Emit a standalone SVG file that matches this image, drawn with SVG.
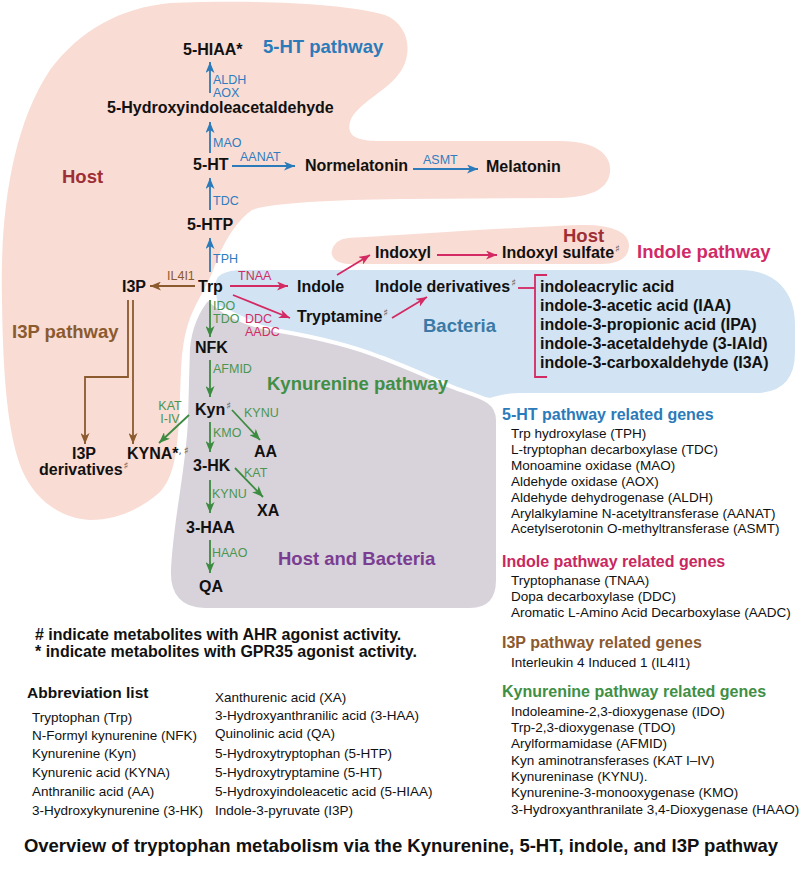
<svg xmlns="http://www.w3.org/2000/svg" width="800" height="871" viewBox="0 0 800 871">
<defs>
<style>
text{font-family:"Liberation Sans",Arial,sans-serif}
.m{font-size:16px;font-weight:bold;fill:#111}
.e{font-size:12.5px}
.eb{fill:#2f7dc0}.ep{fill:#d02c64}.ebr{fill:#8b5a2f}.eg{fill:#4a9650}
.sh{font-family:"DejaVu Sans",sans-serif;font-size:10px;fill:#555;font-weight:normal}
.pw{font-size:18.5px;font-weight:bold}
.hd{font-size:16px;font-weight:bold}
.li{font-size:13.5px;fill:#111}
.cb{stroke:#2b7bba}.cp{stroke:#d42a63}.cbr{stroke:#8b5a2f}.cg{stroke:#3b8b40}
.c{fill:none;stroke-width:1.8}
.rg{stroke:#fff;stroke-width:4}
</style>
<marker id="ab" viewBox="0 0 11 9" refX="11" refY="4.5" markerWidth="11" markerHeight="9" markerUnits="userSpaceOnUse" orient="auto"><path d="M0,0 L11,4.5 L0,9 L3,4.5 Z" fill="#2b7bba"/></marker>
<marker id="ap" viewBox="0 0 11 9" refX="11" refY="4.5" markerWidth="11" markerHeight="9" markerUnits="userSpaceOnUse" orient="auto"><path d="M0,0 L11,4.5 L0,9 L3,4.5 Z" fill="#d42a63"/></marker>
<marker id="abr" viewBox="0 0 11 9" refX="11" refY="4.5" markerWidth="11" markerHeight="9" markerUnits="userSpaceOnUse" orient="auto"><path d="M0,0 L11,4.5 L0,9 L3,4.5 Z" fill="#8b5a2f"/></marker>
<marker id="ag" viewBox="0 0 11 9" refX="11" refY="4.5" markerWidth="11" markerHeight="9" markerUnits="userSpaceOnUse" orient="auto"><path d="M0,0 L11,4.5 L0,9 L3,4.5 Z" fill="#3b8b40"/></marker>
</defs>
<rect width="800" height="871" fill="#fff"/>

<g id="regions">
<path id="host-main" fill="#f9dcd3" d="M170,3 C250,0 340,2 385,15 C410,25 414,55 398,75 C385,92 355,105 350,122 C346,138 360,141 380,141 L560,141 C600,141 612,158 610,172 C608,190 590,197 560,198 L400,199 C330,200 270,203 252,210 C235,222 222,245 214,268 C208,285 197,300 190,318 C184,335 182,350 181,370 L179,420 C177,455 173,478 160,492 C140,510 115,520 90,520 C60,518 35,500 22,470 C8,435 3,380 2,300 C0,220 10,130 50,70 C80,30 120,8 170,3 Z"/>
<path id="bacteria" class="rg" fill="#d2e3f3" d="M213,287 C213,274 222,268 245,268 L740,268 C778,268 797,292 797,325 L797,352 C797,382 782,395 755,395 L520,395 C505,395 497,398 490,400 L455,393 L380,362 L280,336 L216,306 Z"/>
<path id="host-indoxyl" class="rg" fill="#f9dcd3" d="M348,236 C420,232 500,226 580,223 C615,222 632,232 631,247 C630,260 620,266 600,266 L350,266 C335,266 328,258 330,250 C332,242 338,237 348,236 Z"/>
<path id="host-bacteria" class="rg" fill="#d8d2da" d="M208,298 C222,313 242,324 280,331 C320,338 350,345 380,357 C410,368 435,380 455,388 C475,396 498,398 498,420 L498,580 C498,598 490,610 470,610 L205,610 C180,610 168,595 169,570 C171,520 184,470 186,420 L188,348 C190,328 197,311 208,298 Z"/>
</g>

<g id="connectors">
<line class="c cb" x1="210" y1="93" x2="210" y2="62" marker-end="url(#ab)"/>
<line class="c cb" x1="210" y1="153" x2="210" y2="122" marker-end="url(#ab)"/>
<line class="c cb" x1="232" y1="166" x2="295" y2="166" marker-end="url(#ab)"/>
<line class="c cb" x1="413" y1="169" x2="478" y2="169" marker-end="url(#ab)"/>
<line class="c cb" x1="210" y1="210" x2="210" y2="178" marker-end="url(#ab)"/>
<line class="c cb" x1="210" y1="272" x2="210" y2="238" marker-end="url(#ab)"/>
<line class="c cbr" x1="195" y1="286" x2="150" y2="286" marker-end="url(#abr)"/>
<polyline class="c cbr" points="128,300 128,377 85,377 85,444" marker-end="url(#abr)"/>
<line class="c cbr" x1="133" y1="300" x2="133" y2="444" marker-end="url(#abr)"/>
<line class="c cp" x1="230" y1="286" x2="288" y2="286" marker-end="url(#ap)"/>
<line class="c cp" x1="233" y1="295" x2="290" y2="318" marker-end="url(#ap)"/>
<line class="c cp" x1="337" y1="275" x2="370" y2="255" marker-end="url(#ap)"/>
<line class="c cp" x1="437" y1="255" x2="497" y2="255" marker-end="url(#ap)"/>
<line class="c cp" x1="392" y1="318" x2="427" y2="297" marker-end="url(#ap)"/>
<polyline class="c cp" points="518,288 535,288"/>
<polyline class="c cp" points="547,275 535,275 535,377 547,377"/>
<line class="c cg" x1="210" y1="300" x2="210" y2="337" marker-end="url(#ag)"/>
<line class="c cg" x1="210" y1="360" x2="210" y2="397" marker-end="url(#ag)"/>
<line class="c cg" x1="232" y1="410" x2="260" y2="440" marker-end="url(#ag)"/>
<line class="c cg" x1="210" y1="422" x2="210" y2="452" marker-end="url(#ag)"/>
<line class="c cg" x1="189" y1="415" x2="159" y2="443" marker-end="url(#ag)"/>
<line class="c cg" x1="235" y1="468" x2="263" y2="497" marker-end="url(#ag)"/>
<line class="c cg" x1="210" y1="480" x2="210" y2="513" marker-end="url(#ag)"/>
<line class="c cg" x1="210" y1="540" x2="210" y2="573" marker-end="url(#ag)"/>
</g>

<g id="enzyme-labels">
<text class="e eb" x="213" y="84">ALDH</text>
<text class="e eb" x="213" y="96.5">AOX</text>
<text class="e eb" x="213" y="147">MAO</text>
<text class="e eb" x="240" y="161">AANAT</text>
<text class="e eb" x="423" y="164">ASMT</text>
<text class="e eb" x="213" y="205">TDC</text>
<text class="e eb" x="213" y="263">TPH</text>
<text class="e ebr" x="167" y="280">IL4I1</text>
<text class="e ep" x="238" y="280">TNAA</text>
<text class="e ep" x="245" y="323">DDC</text>
<text class="e ep" x="245" y="336">AADC</text>
<text class="e eg" x="213" y="309.5">IDO</text>
<text class="e eg" x="213" y="322.5">TDO</text>
<text class="e eg" x="213" y="373">AFMID</text>
<text class="e eg" x="170" y="409.5" text-anchor="middle">KAT</text>
<text class="e eg" x="170" y="423" text-anchor="middle">I-IV</text>
<text class="e eg" x="244" y="417">KYNU</text>
<text class="e eg" x="213" y="437">KMO</text>
<text class="e eg" x="244" y="477">KAT</text>
<text class="e eg" x="212" y="498">KYNU</text>
<text class="e eg" x="212" y="557">HAAO</text>
</g>

<g id="nodes">
<g id="n-5hiaa"><text class="m" x="183" y="55">5-HIAA*</text></g>
<g id="n-5hial"><text class="m" x="107" y="113">5-Hydroxyindoleacetaldehyde</text></g>
<g id="n-5ht"><text class="m" x="193" y="170">5-HT</text></g>
<g id="n-normel"><text class="m" x="305" y="171">Normelatonin</text></g>
<g id="n-mel"><text class="m" x="486" y="172">Melatonin</text></g>
<g id="n-5htp"><text class="m" x="187" y="230">5-HTP</text></g>
<g id="n-trp"><text class="m" x="198" y="292">Trp</text></g>
<g id="n-i3p"><text class="m" x="122" y="292">I3P</text></g>
<g id="n-indole"><text class="m" x="297" y="292">Indole</text></g>
<g id="n-tryptamine"><text class="m" x="297" y="322">Tryptamine<tspan class="sh" dx="1" dy="-6">♯</tspan></text></g>
<g id="n-indoxyl"><text class="m" x="375" y="258">Indoxyl</text></g>
<g id="n-indsulf"><text class="m" x="502" y="258">Indoxyl sulfate<tspan class="sh" dx="1" dy="-6">♯</tspan></text></g>
<g id="n-indder"><text class="m" x="375" y="292">Indole derivatives<tspan class="sh" dx="1" dy="-6">♯</tspan></text></g>
<g id="n-indlist">
<text class="m" x="540" y="292">indoleacrylic acid</text>
<text class="m" x="540" y="311">indole-3-acetic acid (IAA)</text>
<text class="m" x="540" y="330">indole-3-propionic acid (IPA)</text>
<text class="m" x="540" y="349">indole-3-acetaldehyde (3-IAld)</text>
<text class="m" x="540" y="368">indole-3-carboxaldehyde (I3A)</text>
</g>
<g id="n-nfk"><text class="m" x="195" y="353">NFK</text></g>
<g id="n-kyn"><text class="m" x="195" y="415">Kyn<tspan class="sh" dx="1" dy="-6">♯</tspan></text></g>
<g id="n-aa"><text class="m" x="254" y="457">AA</text></g>
<g id="n-kyna"><text class="m" x="127" y="459">KYNA*<tspan class="sh" dy="-5">,</tspan><tspan class="sh" dx="2">♯</tspan></text></g>
<g id="n-i3pder"><text class="m" x="84" y="459" text-anchor="middle">I3P</text><text class="m" x="39" y="475">derivatives<tspan class="sh" dx="1" dy="-6">♯</tspan></text></g>
<g id="n-3hk"><text class="m" x="193" y="471">3-HK</text></g>
<g id="n-xa"><text class="m" x="257" y="516">XA</text></g>
<g id="n-3haa"><text class="m" x="186" y="533">3-HAA</text></g>
<g id="n-qa"><text class="m" x="199" y="592">QA</text></g>
</g>

<g id="region-labels">
<text class="pw" x="62" y="183" fill="#9e2f36">Host</text>
<text class="pw" x="263" y="53" fill="#2b7bba">5-HT pathway</text>
<text class="pw" x="12" y="338" fill="#8b5a2f">I3P pathway</text>
<text class="pw" x="267" y="390" fill="#3f8f45">Kynurenine pathway</text>
<text class="pw" x="278" y="565" fill="#7a3d92">Host and Bacteria</text>
<text class="pw" x="563" y="242" fill="#9e2f36">Host</text>
<text class="pw" x="637" y="258" fill="#d12a66">Indole pathway</text>
<text class="pw" x="423" y="332" fill="#3b7aa6">Bacteria</text>
</g>

<g id="gene-legend">
<text class="hd" x="502" y="420" fill="#2b7bba">5-HT pathway related genes</text>
<text class="li" x="511" y="438">Trp hydroxylase (TPH)</text>
<text class="li" x="511" y="454">L-tryptophan decarboxylase (TDC)</text>
<text class="li" x="511" y="470">Monoamine oxidase (MAO)</text>
<text class="li" x="511" y="486">Aldehyde oxidase (AOX)</text>
<text class="li" x="511" y="502">Aldehyde dehydrogenase (ALDH)</text>
<text class="li" x="511" y="518">Arylalkylamine N-acetyltransferase (AANAT)</text>
<text class="li" x="511" y="533">Acetylserotonin O-methyltransferase (ASMT)</text>
<text class="hd" x="502" y="567" fill="#c8285f">Indole pathway related genes</text>
<text class="li" x="511" y="585">Tryptophanase (TNAA)</text>
<text class="li" x="511" y="601">Dopa decarboxylase (DDC)</text>
<text class="li" x="511" y="617">Aromatic L-Amino Acid Decarboxylase (AADC)</text>
<text class="hd" x="502" y="648" fill="#8b5a2f">I3P pathway related genes</text>
<text class="li" x="511" y="667">Interleukin 4 Induced 1 (IL4I1)</text>
<text class="hd" x="502" y="697" fill="#3f8f45">Kynurenine pathway related genes</text>
<text class="li" x="511" y="716">Indoleamine-2,3-dioxygenase (IDO)</text>
<text class="li" x="511" y="732">Trp-2,3-dioxygenase (TDO)</text>
<text class="li" x="511" y="748">Arylformamidase (AFMID)</text>
<text class="li" x="511" y="765">Kyn aminotransferases (KAT I–IV)</text>
<text class="li" x="511" y="781">Kynureninase (KYNU).</text>
<text class="li" x="511" y="797">Kynurenine-3-monooxygenase (KMO)</text>
<text class="li" x="511" y="814">3-Hydroxyanthranilate 3,4-Dioxygenase (HAAO)</text>
</g>

<g id="notes">
<text class="hd" x="35" y="640" fill="#111"># indicate metabolites with AHR agonist activity.</text>
<text class="hd" x="35" y="657" fill="#111">* indicate metabolites with GPR35 agonist activity.</text>
</g>

<g id="abbreviations">
<text x="27" y="698" font-size="15.5" font-weight="bold" fill="#111">Abbreviation list</text>
<text class="li" x="32" y="722">Tryptophan (Trp)</text>
<text class="li" x="32" y="740">N-Formyl kynurenine (NFK)</text>
<text class="li" x="32" y="758">Kynurenine (Kyn)</text>
<text class="li" x="32" y="777">Kynurenic acid (KYNA)</text>
<text class="li" x="32" y="796">Anthranilic acid (AA)</text>
<text class="li" x="32" y="815">3-Hydroxykynurenine (3-HK)</text>
<text class="li" x="215" y="702">Xanthurenic acid (XA)</text>
<text class="li" x="215" y="720">3-Hydroxyanthranilic acid (3-HAA)</text>
<text class="li" x="215" y="738">Quinolinic acid (QA)</text>
<text class="li" x="215" y="758">5-Hydroxytryptophan (5-HTP)</text>
<text class="li" x="215" y="777">5-Hydroxytryptamine (5-HT)</text>
<text class="li" x="215" y="796">5-Hydroxyindoleacetic acid (5-HIAA)</text>
<text class="li" x="215" y="815">Indole-3-pyruvate (I3P)</text>
</g>

<g id="title">
<text x="401" y="852" text-anchor="middle" font-size="18.5" font-weight="bold" fill="#111">Overview of tryptophan metabolism via the Kynurenine, 5-HT, indole, and I3P pathway</text>
</g>
</svg>
